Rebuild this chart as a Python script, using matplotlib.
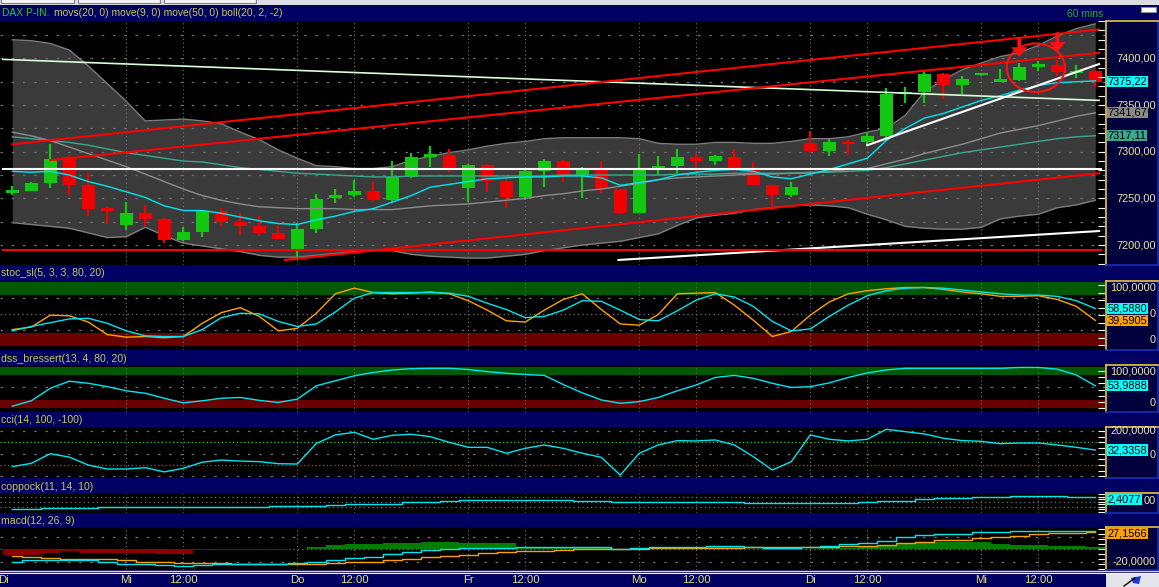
import numpy as np
import matplotlib
matplotlib.use('Agg')
import matplotlib.pyplot as plt
from matplotlib import font_manager, transforms
from matplotlib.patches import Rectangle, Ellipse, FancyArrow, Polygon

W, H = 1159, 587

# ---------------- values (one entry per 60 min bar) ----------------
opens = [7256, 7258, 7267, 7294, 7264, 7239, 7221, 7234, 7228, 7205, 7214, 7236, 7225, 7220, 7213,
         7195, 7217, 7250, 7254, 7258, 7248, 7273, 7294, 7297, 7261, 7286, 7269, 7251, 7279, 7290,
         7275, 7282, 7260, 7234, 7282, 7285, 7294, 7290, 7294, 7282, 7264, 7254, 7309, 7301, 7310,
         7310, 7317, 7362, 7364, 7383, 7372, 7382, 7375, 7377, 7391, 7393, 7384, 7386]
highs = [7263, 7268, 7308, 7296, 7277, 7241, 7246, 7243, 7229, 7219, 7238, 7240, 7234, 7231, 7221,
         7224, 7255, 7260, 7270, 7269, 7290, 7299, 7306, 7303, 7287, 7287, 7273, 7281, 7292, 7291,
         7284, 7290, 7260, 7298, 7295, 7303, 7299, 7297, 7303, 7289, 7264, 7268, 7322, 7314, 7313,
         7321, 7368, 7369, 7388, 7384, 7381, 7384, 7389, 7395, 7397, 7398, 7393, 7388]
lows = [7254, 7258, 7261, 7254, 7231, 7223, 7216, 7220, 7202, 7204, 7209, 7220, 7211, 7210, 7206,
        7184, 7213, 7245, 7251, 7246, 7246, 7272, 7284, 7278, 7246, 7257, 7240, 7248, 7262, 7268,
        7250, 7256, 7233, 7234, 7275, 7277, 7279, 7286, 7277, 7264, 7238, 7252, 7299, 7295, 7296,
        7306, 7311, 7352, 7352, 7356, 7362, 7381, 7375, 7376, 7386, 7381, 7379, 7369]
closes = [7258, 7267, 7292, 7264, 7239, 7237, 7234, 7228, 7205, 7214, 7236, 7225, 7220, 7213, 7206,
          7217, 7249, 7254, 7258, 7248, 7273, 7294, 7298, 7283, 7286, 7269, 7251, 7279, 7290, 7275,
          7282, 7260, 7234, 7282, 7285, 7294, 7290, 7295, 7282, 7264, 7254, 7262, 7301, 7310, 7308,
          7317, 7362, 7364, 7383, 7371, 7378, 7383, 7376, 7391, 7393, 7385, 7386, 7375.22]

boll_upper = [7420, 7419, 7416, 7409, 7392, 7373, 7354, 7333, 7334, 7335, 7333, 7330, 7321, 7313, 7302,
              7293, 7285, 7284, 7282, 7282, 7284, 7291, 7295, 7299, 7302, 7306, 7309, 7311, 7314, 7315,
              7315, 7315, 7315, 7314, 7309, 7308, 7308, 7310, 7310, 7309, 7309, 7311, 7314, 7314, 7316,
              7321, 7325, 7339, 7364, 7377, 7388, 7395, 7402, 7406, 7414, 7424, 7432, 7437]
boll_lower = [7224, 7222, 7220, 7218, 7213, 7208, 7209, 7219, 7210, 7202, 7199, 7196, 7193, 7189, 7187,
              7187, 7189, 7191, 7193, 7194, 7194, 7190, 7188, 7187, 7186, 7186, 7188, 7190, 7194, 7197,
              7200, 7202, 7204, 7208, 7212, 7221, 7229, 7232, 7234, 7238, 7240, 7242, 7243, 7242, 7240,
              7233, 7227, 7220, 7218, 7217, 7217, 7219, 7228, 7231, 7233, 7240, 7243, 7248]
ma_fast = [7279, 7278, 7279, 7275, 7268, 7263, 7257, 7251, 7242, 7237, 7237, 7234, 7230, 7226, 7223,
           7222, 7227, 7231, 7236, 7239, 7246, 7253, 7262, 7265, 7268, 7271, 7272, 7273, 7273, 7274,
           7274, 7272, 7264, 7267, 7270, 7275, 7278, 7280, 7281, 7279, 7273, 7271, 7276, 7281, 7287,
           7293, 7312, 7325, 7336, 7341, 7348, 7355, 7360, 7366, 7371, 7374, 7375, 7376]
ma_mid = [7321, 7317, 7312, 7305, 7298, 7291, 7284, 7276, 7268, 7260, 7253, 7248, 7244, 7241, 7240,
          7239, 7239, 7239, 7238, 7238, 7238, 7240, 7242, 7243, 7244, 7246, 7248, 7250, 7253, 7255,
          7258, 7260, 7263, 7266, 7270, 7272, 7273, 7274, 7275, 7276, 7276, 7277, 7277, 7279, 7281,
          7282, 7287, 7292, 7298, 7303, 7308, 7314, 7320, 7324, 7328, 7333, 7338, 7341.67]
ma_slow = [7316, 7314, 7312, 7310, 7307, 7303, 7299, 7296, 7293, 7290, 7289, 7286, 7283, 7281, 7279,
           7277, 7276, 7275, 7274, 7273, 7273, 7274, 7274, 7274, 7274, 7274, 7274, 7274, 7274, 7275,
           7275, 7275, 7275, 7275, 7275, 7276, 7276, 7276, 7277, 7277, 7277, 7277, 7278, 7278, 7279,
           7280, 7283, 7287, 7291, 7295, 7299, 7302, 7305, 7308, 7311, 7314, 7316, 7317.11]

stoch_k = [23, 30, 36, 42, 43, 35, 23, 15, 14, 14, 25, 44, 51, 50, 38, 30, 34, 53, 75, 84, 84,
           84, 84, 83, 78, 67, 57, 44, 46, 56, 71, 70, 56, 41, 39, 55, 72, 82, 77, 62, 38, 23,
           26, 46, 64, 79, 87, 91, 92, 91, 88, 85, 82, 80, 80, 78, 71, 58.588]
stoch_d = [25, 29, 48, 47, 37, 17, 13, 14, 12, 14, 35, 52, 60, 46, 23, 27, 51, 82, 91, 84, 82,
           83, 85, 82, 71, 56, 39, 37, 56, 73, 82, 57, 34, 32, 49, 82, 83, 84, 64, 40, 14, 22,
           48, 69, 82, 87, 90, 92, 92, 89, 85, 82, 78, 78, 79, 73, 62, 39.5905]
dss = [5, 18, 48, 65, 60, 52, 42, 36, 24, 13, 18, 24, 26, 19, 14, 22, 54, 66, 78, 86, 92,
       95, 96, 96, 93, 88, 84, 81, 79, 57, 37, 20, 12, 16, 26, 42, 56, 74, 79, 72, 60, 50,
       52, 61, 74, 85, 92, 96, 96, 96, 96, 96, 96, 98, 98, 94, 80, 53.9888]
cci = [-114, -85, 0, -30, -100, -135, -135, -123, -160, -129, -75, -56, -65, -70, -88, -91, 90, 165, 188, 127, 162,
       171, 150, 100, 56, 56, 4, 47, 77, 47, 4, -32, -188, 4, 77, 115, 112, 121, 77, -26, -144, -70,
       165, 127, 112, 127, 215, 194, 174, 136, 115, 109, 88, 94, 94, 77, 56, 32.3358]
coppock = [-3.9, -3.9, -3.4, -3.4, -3.4, -2.9, -2.9, -2.9, -2.9, -2.9, -2.9, -2.9, -2.9, -2.6, -2.25,
           -2.25, -2.25, -1.75, -1.25, -1.25, -1.25, -0.4, -0.4, 0.4, 0.9, 0.9, 0.9, 0.9, 0.9, 0.9,
           0.4, 0.4, -0.1, -0.4, -0.4, -0.4, -0.4, -0.4, -0.4, -0.9, -0.9, -0.9, -0.9, -0.6, -0.6,
           -0.1, 0.4, 0.4, 1.1, 1.6, 1.6, 2.1, 2.1, 2.6, 2.6, 2.6, 2.5, 2.4077]
macd_line = [-20, -17.5, -17.3, -17.3, -18, -20, -23, -24, -26, -27, -25.3, -24.5, -23.7, -23.7, -23.7,
             -22.6, -20, -17.3, -14, -12, -8, -5, -1, 0.5, 2.6, 2.6, 2.6, 3, 3.4, 3.8,
             4.3, 3, 0, 1.5, 3.8, 4.3, 4.3, 5.9, 5.9, 4.3, 2.6, 2.6, 4, 6, 8,
             10.7, 14, 19.4, 22.6, 24.7, 24.7, 28.4, 28.4, 30, 30, 30, 30, 29]
macd_signal = [-11, -12, -14.5, -15, -16, -16, -18, -20, -21, -21.6, -21.6, -21.6, -24, -24, -24,
               -23, -23, -21.6, -20, -20, -17, -15, -12.9, -11.5, -9, -6.5, -3.8, -3.5, -3, -1.1,
               0, 1, 1.3, 1.3, 1.5, 1.8, 2, 2.5, 2.8, 3, 3, 3, 3.8, 4.3, 5.4,
               5.4, 7, 9.7, 12.3, 15, 15, 17.7, 20.3, 22, 24.2, 25.8, 26.8, 27.1566]
macd_hist = [-9, -9, -5.4, -3.4, -5.5, -5.5, -5.5, -5.5, -7.5, -7.5, -1, -1, -1, -1, -1,
             0, 3, 7, 8, 8, 10, 10.7, 12.4, 12.4, 9.7, 9.7, 9.7, 4.3, 4.3, 3.5,
             3.5, 1.5, -1, 0, 1.5, 2, 2, 3, 3, 1, -0.5, -0.5, 1, 2, 2.5,
             3, 5, 8, 11, 11, 11, 11, 8.6, 7, 7, 5.4, 5, 4]

tick_bars = [6, 9, 15, 18, 24, 27, 33, 36, 42, 45, 51, 54]
tick_labels = ['Mi', '12:00', 'Do', '12:00', 'Fr', '12:00', 'Mo', '12:00', 'Di', '12:00', 'Mi', '12:00']
price_ticks = [7200, 7250, 7300, 7350, 7400]

# hand drawn trend lines: (bar0, price0, bar1, price1)
red_lines = [(0, 7308, 57.2, 7431), (2, 7291, 57.2, 7406), (14.35, 7184, 57.2, 7277), (-0.5, 7195, 57.3, 7195)]
white_lines = [(-0.5, 7282, 57.3, 7282), (31.9, 7184, 57.2, 7215), (45, 7307, 57.2, 7394)]
pale_line = (-0.5, 7399, 57.2, 7355)
arrows = [(53.0, 7423, 7401.5), (55.0, 7428, 7407)]
circle = (53.87, 7390, 3.07, 52)

# ---------------- style ----------------
NAVY = '#000062'
AXIS_BG = '#00003c'
YELLOW = '#e8c840'
EDGE_BLUE = '#1830b0'
GRID = '#707070'
LABEL = '#ece4a0'
HEAD_TXT = '#c8c850'
CYAN = '#00e6f0'
ORANGE = '#ffa200'

names = {f.name for f in font_manager.fontManager.ttflist}
if 'Liberation Sans Narrow' in names:
    FONT, FS = 'Liberation Sans Narrow', 1.0
else:
    FONT, FS = 'Liberation Sans', 0.82
plt.rcParams['font.family'] = [FONT, 'DejaVu Sans']

n = len(closes)
idx = np.arange(n)
XMIN, XMAX = -0.647, 57.51
PX_RIGHT, AX_LEFT, AX_RIGHT = 1105, 1106, 1158

fig = plt.figure(figsize=(W / 100, H / 100), dpi=100)
fig.patch.set_facecolor(NAVY)


def px_axes(x0, y0, x1, y1, z=1):
    ax = fig.add_axes([x0 / W, 1 - y1 / H, (x1 - x0) / W, (y1 - y0) / H], zorder=z)
    ax.set_xticks([])
    ax.set_yticks([])
    for s in ax.spines.values():
        s.set_visible(False)
    return ax


bg = px_axes(0, 0, W, H, z=0)
bg.set_xlim(0, W)
bg.set_ylim(H, 0)
bg.set_facecolor(NAVY)

# top window strip and tabs
bg.add_patch(Rectangle((0, 0), W, 4.5, fc='#dcdce4', ec='none'))
for x0, x1 in [(1, 74), (78, 160), (164, 256)]:
    bg.add_patch(Rectangle((x0, -2), x1 - x0, 5, fc='#f4f4f8', ec='#808080', lw=0.8))
bg.add_patch(Rectangle((1141, 6.5), 15, 5, fc='white', ec='#909090', lw=0.8))

bg.text(2, 13, 'DAX P-IN.', color='#2ec82e', fontsize=9.0 * FS, va='center', ha='left')
bg.text(54, 13, 'movs(20, 0) move(9, 0) move(50, 0) boll(20, 2, -2)', color=HEAD_TXT,
        fontsize=9.0 * FS, va='center', ha='left')
bg.text(1067, 14, '60 mins', color='#20b020', fontsize=9.0 * FS, va='center', ha='left')

headers = [('stoc_sl(5, 3, 3, 80, 20)', 273), ('dss_bressert(13, 4, 80, 20)', 359),
           ('cci(14, 100, -100)', 420), ('coppock(11, 14, 10)', 487), ('macd(12, 26, 9)', 521)]
for txt, y in headers:
    bg.text(1, y, txt, color=HEAD_TXT, fontsize=9.2 * FS, va='center', ha='left')

# bottom time axis
bg.plot([0, W], [570.5, 570.5], color='#f0e070', lw=1)
bg.plot([0, W], [572.6, 572.6], color='#f8f4d0', lw=0.8)
bg.add_patch(Rectangle((1106, 573.5), 53, 14, fc='#e4e4ec', ec='none'))
bg.add_patch(Polygon([[1131, 578], [1141, 576], [1139, 584], [1133, 583]], closed=True, fc='#1838d0', ec='none'))
bg.plot([1124, 1135], [586, 578], color='black', lw=1)


def bar_to_px(b):
    return (b - XMIN) / (XMAX - XMIN) * PX_RIGHT


bg.text(-2, 580, 'Di', color='#e8e070', fontsize=10 * FS, va='center', ha='left')
for b, lab in zip(tick_bars, tick_labels):
    bg.text(bar_to_px(b), 580, lab, color='#e8e070', fontsize=10 * FS, va='center', ha='center')


def blend(ax):
    return transforms.blended_transform_factory(ax.transAxes, ax.transData)


def panel(y0, y1, ylim, tick_step):
    ax = px_axes(0, y0, PX_RIGHT, y1, z=1)
    ax.set_facecolor('black')
    ax.set_xlim(XMIN, XMAX)
    ax.set_ylim(*ylim)
    for b in tick_bars:
        ax.axvline(b, color=GRID, lw=0.8, ls=(0, (1, 2.5)), zorder=1.5)
    ticks = np.arange(np.ceil(ylim[0] / tick_step) * tick_step, ylim[1], tick_step)
    ax.hlines(ticks, 0.994, 1.0, transform=blend(ax), color='white', lw=0.8, zorder=6)
    axr = px_axes(AX_LEFT, y0, AX_RIGHT, y1, z=2)
    axr.set_facecolor(AXIS_BG)
    axr.set_xlim(0, 1)
    axr.set_ylim(*ylim)
    for side, col in (('left', YELLOW), ('top', YELLOW), ('bottom', EDGE_BLUE), ('right', EDGE_BLUE)):
        axr.spines[side].set_visible(True)
        axr.spines[side].set_color(col)
        axr.spines[side].set_linewidth(1.2)
    return ax, axr


def axis_label(axr, v, s, va='center'):
    axr.text(0.96, v, s, transform=blend(axr), ha='right', va=va, color=LABEL,
             fontsize=9.7 * FS, zorder=3)


def value_box(axr, v, s, fc, y0, y1):
    lo, hi = axr.get_ylim()
    half = 6.5 * (hi - lo) / (y1 - y0)
    y = min(max(v, lo + half), hi - half)
    axr.text(0.03, y, s, transform=blend(axr), ha='left', va='center', color='black',
             fontsize=9.7 * FS, zorder=4,
             bbox=dict(boxstyle='square,pad=0.05', fc=fc, ec='none'))


def fmt(v, d):
    return f'{v:.{d}f}'.replace('.', ',')


def hgrid(ax, vals, color=GRID, ls=(0, (2, 7)), lw=0.9):
    for v in vals:
        ax.axhline(v, color=color, lw=lw, ls=ls, zorder=1.5)


# ---------------- price panel ----------------
P_Y0, P_Y1 = 21, 265
ax, axr = panel(P_Y0, P_Y1, (7178.6, 7440.1), 10)
ax.fill_between(idx, boll_lower, boll_upper, color='#3a3a3a', lw=0, zorder=1)
ax.plot(idx, boll_upper, color='#7c7c7c', lw=1, zorder=1.2)
ax.plot(idx, boll_lower, color='#7c7c7c', lw=1, zorder=1.2)
hgrid(ax, np.arange(7200, 7440, 25))

o = np.array(opens)
c = np.array(closes)
up = c >= o
body_lo = np.minimum(o, c)
body_h = np.maximum(np.abs(c - o), 2.5)
cols = np.where(up, '#12c812', '#f00000')
ax.vlines(idx, lows, highs, colors=cols, lw=1.6, zorder=3)
ax.bar(idx, body_h, bottom=body_lo, width=0.68, color=cols, lw=0, zorder=3.1)

ax.plot(idx, ma_slow, color='#3aa88e', lw=1, zorder=4)
ax.plot(idx, ma_mid, color='#8c8c8c', lw=1, zorder=4)
ax.plot(idx, ma_fast, color=CYAN, lw=1, zorder=4.2)
x0, p0, x1, p1 = pale_line
ax.plot([x0, x1], [p0, p1], color='#d8ffd8', lw=1.2, zorder=4.5)
for x0, p0, x1, p1 in white_lines:
    ax.plot([x0, x1], [p0, p1], color='white', lw=1.5, zorder=4.5)
for x0, p0, x1, p1 in red_lines:
    ax.plot([x0, x1], [p0, p1], color='#ff0000', lw=1.5, zorder=4.6)
for bx, ptop, ptip in arrows:
    ax.add_patch(FancyArrow(bx, ptop, 0, ptip - ptop, width=0.2, head_width=0.85, head_length=10.5,
                            length_includes_head=True, color='#ff1010', lw=0, zorder=6))
cx, cp, cw, ch = circle
ax.add_patch(Ellipse((cx, cp), cw, ch, angle=0, fill=False, ec='#ff1010', lw=1.5, zorder=6))

for v in price_ticks:
    axis_label(axr, v, fmt(v, 2))
value_box(axr, closes[-1], fmt(closes[-1], 2), '#00ffff', P_Y0, P_Y1)
value_box(axr, ma_mid[-1], fmt(ma_mid[-1], 2), '#8a8a8a', P_Y0, P_Y1)
value_box(axr, ma_slow[-1], fmt(ma_slow[-1], 2), '#3aa88e', P_Y0, P_Y1)

# ---------------- stochastic ----------------
S_Y0, S_Y1 = 281, 350
ax, axr = panel(S_Y0, S_Y1, (-7.5, 102.4), 12)
ax.axhspan(80, 101.3, color='#005800', lw=0, zorder=1)
ax.axhspan(-1.1, 20, color='#6a0000', lw=0, zorder=1)
hgrid(ax, [75, 25])
hgrid(ax, [50], ls=(0, (1, 2.5)))
ax.plot(idx, stoch_d, color=ORANGE, lw=1, zorder=3)
ax.plot(idx, stoch_k, color=CYAN, lw=1, zorder=3.1)
axis_label(axr, 100, '100,0000', va='top')
axis_label(axr, 50, '0')          # the rest of this label sits under the value boxes
axis_label(axr, 0, '0', va='bottom')
value_box(axr, stoch_k[-1], fmt(stoch_k[-1], 4), '#00ffff', S_Y0, S_Y1)
value_box(axr, stoch_d[-1], fmt(stoch_d[-1], 4), ORANGE, S_Y0, S_Y1)

# ---------------- dss bressert ----------------
D_Y0, D_Y1 = 365, 412
ax, axr = panel(D_Y0, D_Y1, (-8.9, 103.9), 15)
ax.axhspan(80, 100, color='#005800', lw=0, zorder=1)
ax.axhspan(0, 20, color='#6a0000', lw=0, zorder=1)
hgrid(ax, [50])
ax.plot(idx, dss, color=CYAN, lw=1, zorder=3)
axis_label(axr, 100, '100,0000', va='top')
axis_label(axr, 0, '0', va='bottom')
value_box(axr, dss[-1], fmt(dss[-1], 4), '#00ffff', D_Y0, D_Y1)

# ---------------- cci ----------------
C_Y0, C_Y1 = 427, 478
ax, axr = panel(C_Y0, C_Y1, (-214, 235), 50)
hgrid(ax, [200, 0, -200])
ax.axhline(100, color='#30d030', lw=0.9, ls=(0, (1, 2)), zorder=2)
ax.axhline(-100, color='#d03030', lw=0.9, ls=(0, (1, 2)), zorder=2)
ax.plot(idx, cci, color=CYAN, lw=1, zorder=3)
axis_label(axr, 200, '200,0000')
axis_label(axr, -8, '0')
value_box(axr, cci[-1], fmt(cci[-1], 4), '#00ffff', C_Y0, C_Y1)

# ---------------- coppock ----------------
K_Y0, K_Y1 = 493, 513
ax, axr = panel(K_Y0, K_Y1, (-5.75, 4.25), 1.25)
hgrid(ax, [2.5, 0, -2.5], ls=(0, (1, 2.5)))
ax.plot(idx, coppock, color=CYAN, lw=1, drawstyle='steps-mid', zorder=3)
axis_label(axr, 0, '00')
value_box(axr, coppock[-1], fmt(coppock[-1], 4), '#00ffff', K_Y0, K_Y1)

# ---------------- macd ----------------
M_Y0, M_Y1 = 527, 570
ax, axr = panel(M_Y0, M_Y1, (-33.4, 36), 8)
hgrid(ax, [20, -20])
hgrid(ax, [0], ls=(0, (1, 2.5)))
hist = np.array(macd_hist)
ax.bar(idx, hist, width=1.0, color=np.where(hist >= 0, '#007c00', '#8a0000'), lw=0, zorder=2)
ax.plot(idx, macd_signal, color=ORANGE, lw=1, drawstyle='steps-mid', zorder=3)
ax.plot(idx, macd_line, color=CYAN, lw=1, drawstyle='steps-mid', zorder=3.1)
axis_label(axr, -20, '-20,0000')
value_box(axr, macd_signal[-1], fmt(macd_signal[-1], 4), ORANGE, M_Y0, M_Y1)

fig.savefig('out.png', dpi=100, facecolor=fig.get_facecolor())
